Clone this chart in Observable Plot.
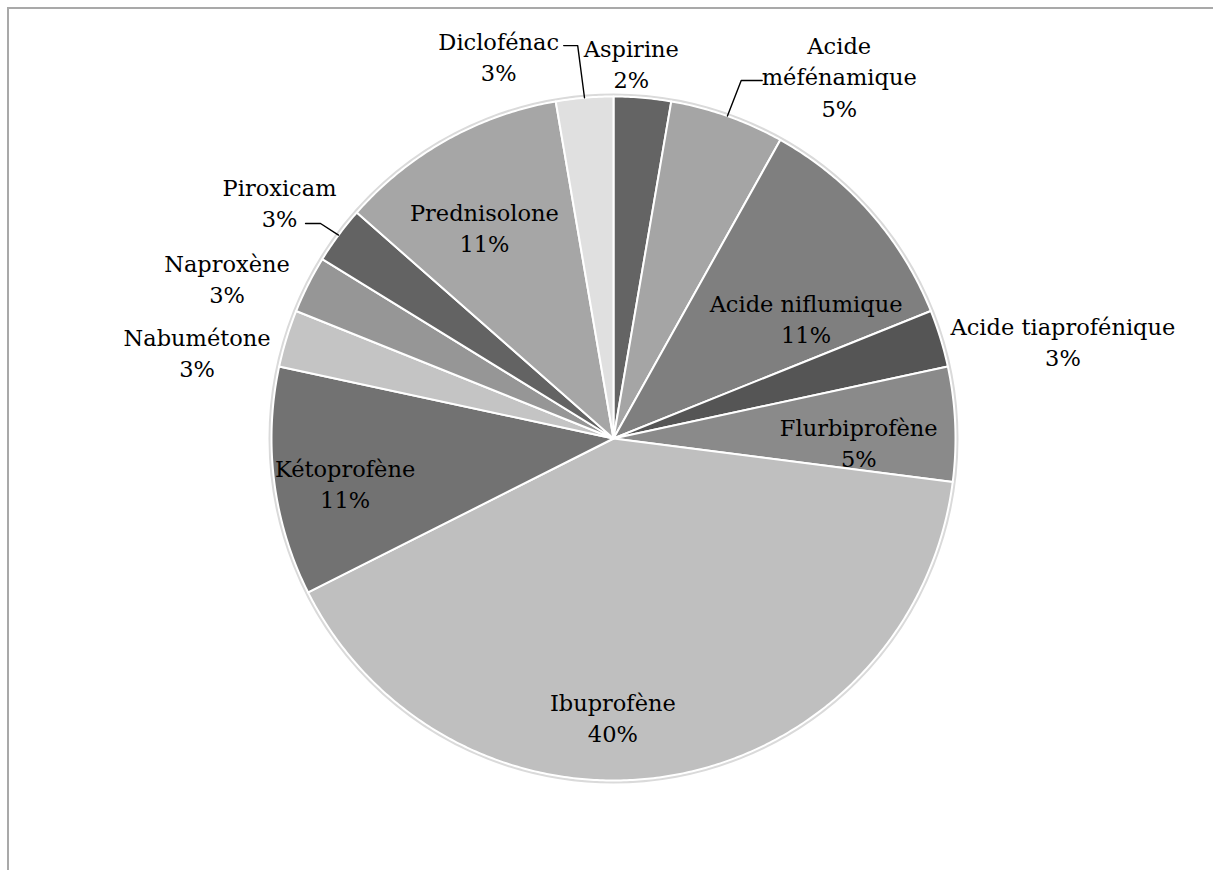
<!DOCTYPE html>
<html>
<head>
<meta charset="utf-8">
<script src="https://cdn.jsdelivr.net/npm/d3@7"></script>
<script src="https://cdn.jsdelivr.net/npm/@observablehq/plot@0.6"></script>
<style>
  html, body { margin: 0; padding: 0; background: #fff; overflow: hidden; }
  #wrap { position: relative; width: 1213px; height: 870px; }
  #frame { position: absolute; left: 7px; top: 7px; width: 1400px; height: 1000px;
           border-top: 2px solid #a9a9a9; border-left: 2px solid #a9a9a9; }
  #chart { position: absolute; left: 0; top: 0; }
</style>
</head>
<body>
<div id="wrap"><div id="frame"></div><div id="chart"></div></div>
<script>
// ---- data ----
const names = ["Aspirine", "Acide méfénamique", "Acide niflumique", "Acide tiaprofénique",
  "Flurbiprofène", "Ibuprofène", "Kétoprofène", "Nabumétone", "Naproxène", "Piroxicam",
  "Prednisolone", "Diclofénac"];
const counts = [1, 2, 4, 1, 2, 15, 4, 1, 1, 1, 4, 1];
const pctLabels = ["2%", "5%", "11%", "3%", "5%", "40%", "11%", "3%", "3%", "3%", "11%", "3%"];
const labelLines = ["Aspirine", "Acide\nméfénamique", "Acide niflumique", "Acide tiaprofénique",
  "Flurbiprofène", "Ibuprofène", "Kétoprofène", "Nabumétone", "Naproxène", "Piroxicam",
  "Prednisolone", "Diclofénac"];

// ---- styles / layout ----
const palette = ["#646464", "#a5a5a5", "#7f7f7f", "#555555", "#8a8a8a", "#bfbfbf",
  "#727272", "#c4c4c4", "#969696", "#636363", "#a6a6a6", "#e0e0e0"];
const W = 1213, H = 870, cx = 613, cy = 438, R = 342;
const inside = new Set(["Acide niflumique", "Flurbiprofène", "Ibuprofène", "Kétoprofène", "Prednisolone"]);
const nudge = {
  "Aspirine": [-17, 32.5], "Acide méfénamique": [89, 24], "Acide niflumique": [0, 49],
  "Acide tiaprofénique": [57, 22], "Flurbiprofène": [-11, 14], "Ibuprofène": [-44, 25],
  "Kétoprofène": [-14, 11], "Nabumétone": [-24, 33], "Naproxène": [-20, 24],
  "Piroxicam": [-4, 7.5], "Prednisolone": [-4, 12], "Diclofénac": [-80, 26]
};
const leaders = {
  "Diclofénac": {dx: 65, dy: -10, elbow: 14},
  "Acide méfénamique": {dx: -77, dy: 5, elbow: -21},
  "Piroxicam": {dx: 26, dy: 21.5, elbow: 15}
};

const arcs = d3.pie().sort(null).value(d => d)(counts);
const px = (a, r) => cx + r * Math.sin(a);
const py = (a, r) => cy - r * Math.cos(a);

const slicePts = [];
arcs.forEach((a, i) => {
  const n = Math.max(4, Math.ceil((a.endAngle - a.startAngle) / (Math.PI / 360)));
  slicePts.push({name: names[i], x: cx, y: cy});
  for (let k = 0; k <= n; k++) {
    const t = a.startAngle + (a.endAngle - a.startAngle) * k / n;
    slicePts.push({name: names[i], x: px(t, R), y: py(t, R)});
  }
  slicePts.push({name: names[i], x: cx, y: cy});
});
const colorOf = Object.fromEntries(names.map((n, i) => [n, palette[i]]));

const labels = arcs.map((a, i) => {
  const mid = (a.startAngle + a.endAngle) / 2;
  const f = inside.has(names[i]) ? 0.75 : 1.2;
  const [ndx, ndy] = nudge[names[i]];
  return {name: names[i], mid, x: px(mid, R * f) + ndx, y: py(mid, R * f) + ndy,
          text: labelLines[i] + "\n" + pctLabels[i]};
});

const leaderPts = [];
labels.forEach(l => {
  const s = leaders[l.name];
  if (!s) return;
  const ex = l.x + s.dx, ey = l.y + s.dy;
  leaderPts.push({name: l.name, x: ex, y: ey});
  leaderPts.push({name: l.name, x: ex + s.elbow, y: ey});
  leaderPts.push({name: l.name, x: px(l.mid, R), y: py(l.mid, R)});
});

const chart = Plot.plot({
  width: W, height: H, margin: 0,
  x: {domain: [0, W], range: [0, W], axis: null},
  y: {domain: [0, H], range: [0, H], axis: null},
  color: {type: "identity"},
  style: {background: "transparent"},
  marks: [
    Plot.dot([{x: cx, y: cy}], {x: "x", y: "y", r: R + 1.5, fill: "none", stroke: "#dadada", strokeWidth: 3}),
    Plot.line(slicePts, {x: "x", y: "y", z: "name", fill: d => colorOf[d.name],
      stroke: "white", strokeWidth: 2, strokeLinejoin: "round", curve: "linear"}),
    Plot.line(leaderPts, {x: "x", y: "y", z: "name", stroke: "#000", strokeWidth: 1.4, curve: "linear"}),
    Plot.text(labels, {x: "x", y: "y", text: "text", fontSize: 22.5, lineHeight: 1.38,
      fontFamily: "DejaVu Serif", fill: "#000", textAnchor: "middle"})
  ]
});
document.getElementById("chart").appendChild(chart);
</script>
</body>
</html>
